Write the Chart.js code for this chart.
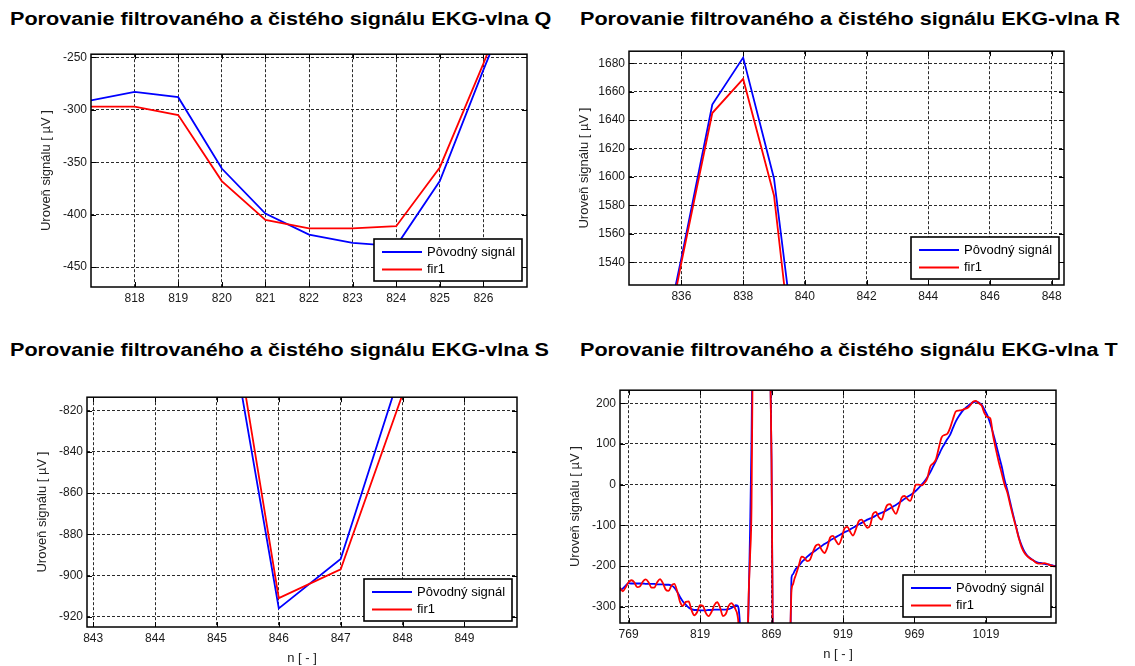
<!DOCTYPE html>
<html>
<head>
<meta charset="utf-8">
<script src="https://cdn.jsdelivr.net/npm/chart.js@4.4.0/dist/chart.umd.min.js"></script>
<style>
  html, body { margin: 0; padding: 0; background: #fff; }
  body { width: 1135px; height: 666px; position: relative; overflow: hidden; font-family: "Liberation Sans", Arial, sans-serif; }
  canvas { position: absolute; }
  .title { position: absolute; font-weight: bold; font-size: 18px; line-height: 20px; white-space: nowrap; color: #000; transform-origin: 0 50%; transform: scaleX(1.2); }
</style>
</head>
<body>
<div class="title" style="left:10px; top:9px">Porovanie filtrovaného a čistého signálu EKG-vlna Q</div>
<div class="title" style="left:580px; top:9px">Porovanie filtrovaného a čistého signálu EKG-vlna R</div>
<div class="title" style="left:10px; top:340px">Porovanie filtrovaného a čistého signálu EKG-vlna S</div>
<div class="title" style="left:580px; top:340px">Porovanie filtrovaného a čistého signálu EKG-vlna T</div>
<canvas id="chartQ"></canvas>
<canvas id="chartR"></canvas>
<canvas id="chartS"></canvas>
<canvas id="chartT"></canvas>
<script>
// Vlna Q
const qN    = [817, 818, 819, 820, 821, 822, 823, 824, 825, 826, 827];
const qOrig = [-291, -283, -288, -356, -399, -419, -427, -430, -368, -262, -160];
const qFir  = [-297, -297, -305, -368, -405, -413, -413, -411, -355, -256, -150];
const qXTicks = [818, 819, 820, 821, 822, 823, 824, 825, 826];
const qYTicks = [-450, -400, -350, -300, -250];

// Vlna R
const rN    = [834, 835, 836, 837, 838, 839, 840, 841];
const rOrig = [1300, 1440, 1543, 1651, 1684, 1599, 1425, 1200];
const rFir  = [1290, 1430, 1540, 1645, 1669, 1587, 1396, 1180];
const rXTicks = [836, 838, 840, 842, 844, 846, 848];
const rYTicks = [1540, 1560, 1580, 1600, 1620, 1640, 1660, 1680];

// Vlna S
const sN    = [842, 843, 844, 845, 846, 847, 848, 849, 850];
const sOrig = [-300, -500, -640, -742, -916, -892, -798, -700, -600];
const sFir  = [-290, -480, -610, -727, -911, -897, -812, -715, -620];
const sXTicks = [843, 844, 845, 846, 847, 848, 849];
const sYTicks = [-920, -900, -880, -860, -840, -820];

// Vlna T
const tN = [
  763, 765, 767, 769, 771, 773, 775, 777, 779, 781,
  783, 785, 787, 789, 791, 793, 795, 797, 799, 801,
  803, 805, 807, 809, 811, 813, 815, 817, 819, 821,
  823, 825, 827, 829, 831, 833, 835, 837, 839, 841,
  843,
  844, 845, 846, 847, 848, 849, 850, 851, 852, 853,
  854, 855, 856, 857, 858,
  859, 861, 863, 865,
  866, 867, 868, 869, 870, 871, 872, 873, 874, 875,
  876, 877, 878, 879, 880, 881, 882, 883, 884, 885,
  886,
  888, 890, 892, 894, 896, 898, 900,
  902, 904, 906, 908, 910, 912, 914, 916, 918, 920,
  922, 924, 926, 928, 930, 932, 934, 936, 938, 940,
  942, 944, 946, 948, 950, 952, 954, 956, 958, 960,
  962, 964, 966, 968, 970, 972, 974, 976, 978, 980,
  982, 984, 986, 988, 990, 992, 994, 996, 998, 1000,
  1002, 1004, 1006, 1008, 1010, 1012, 1014, 1016, 1018, 1020,
  1022, 1024, 1026, 1028, 1030, 1032, 1034, 1036, 1038, 1040,
  1042, 1044, 1046, 1048, 1050, 1052, 1054, 1056, 1058, 1060,
  1062, 1064, 1066, 1068
];
const tOrig = [
  -260, -255, -248, -242, -243, -243, -243, -243, -243, -244,
  -244, -244, -244, -245, -245, -245, -246, -246, -248, -253,
  -263, -276, -287, -295, -302, -306, -308, -308, -309, -309,
  -309, -308, -308, -307, -307, -307, -307, -307, -306, -303,
  -299,
  -296, -297, -305, -350, -440, -460, -455, -435, -400, -290,
  -110, 110, 450, 950, 1350,
  1600, 1690, 1520, 1100,
  850, 550, 320, 60, -420, -760, -910, -915, -905, -895,
  -880, -840, -760, -660, -560, -470, -420, -228, -220, -213,
  -207,
  -200, -191, -184, -177, -171, -166, -161,
  -156, -151, -146, -142, -137, -133, -129, -125, -121, -117,
  -114, -110, -106, -102, -98, -94, -90, -86, -83, -80,
  -76, -72, -69, -66, -62, -58, -54, -50, -45, -40,
  -35, -30, -26, -21, -15, -8, 0, 8, 18, 30,
  44, 58, 73, 88, 100, 112, 123, 140, 156, 168,
  178, 186, 192, 198, 202, 204, 202, 196, 184, 170,
  150, 126, 100, 72, 45, 12, -14, -44, -74, -102,
  -130, -150, -165, -175, -181, -186, -190, -192, -193, -195,
  -196, -197, -199, -200
];
const tFir = [
  -253, -262, -252, -240, -235, -240, -252, -250, -238, -233,
  -240, -253, -253, -240, -232, -242, -258, -261, -248, -244,
  -262, -288, -298, -288, -287, -308, -321, -313, -296, -298,
  -315, -323, -313, -296, -289, -302, -323, -318, -298, -291,
  -300,
  -308, -318, -350, -470, -520, -540, -530, -490, -420, -270,
  -175, -55, 400, 900, 1300,
  1550, 1670, 1500, 1050,
  800, 500, 300, 63, -450, -750, -900, -910, -900, -890,
  -870, -820, -750, -650, -550, -460, -380, -258, -245, -232,
  -222,
  -200, -177, -180, -188, -184, -165, -150,
  -147, -160, -168, -155, -130, -126, -138, -147, -132, -108,
  -104, -116, -125, -110, -90, -86, -96, -106, -100, -72,
  -67, -80, -86, -66, -50, -48, -62, -72, -55, -32,
  -28, -35, -40, -22, 0, 0, -2, 4, 16, 44,
  52, 62, 90, 116, 122, 125, 140, 162, 180, 182,
  183, 186, 188, 195, 204, 206, 200, 194, 175, 166,
  163, 120, 86, 55, 28, 0, -20, -50, -78, -104,
  -132, -154, -168, -176, -182, -186, -192, -194, -194, -193,
  -195, -198, -200, -201
];
const tXTicks = [769, 819, 869, 919, 969, 1019];
const tYTicks = [-300, -200, -100, 0, 100, 200];

const FONT = '"Liberation Sans", Arial, sans-serif';
const PAD = { l: 64, t: 6, r: 8, b: 46 };

// ramcek, vnutorne ciarky a legenda ako v Matlabe
const matlabFrame = {
  id: 'matlabFrame',
  afterDatasetsDraw(chart) {
    const { ctx, chartArea: a, scales: { x, y } } = chart;
    ctx.save();
    ctx.strokeStyle = '#000';
    ctx.lineWidth = 1;
    ctx.beginPath();
    x.ticks.forEach(t => {
      const px = Math.round(x.getPixelForValue(t.value)) + 0.5;
      ctx.moveTo(px, a.bottom); ctx.lineTo(px, a.bottom - 5);
      ctx.moveTo(px, a.top); ctx.lineTo(px, a.top + 5);
    });
    y.ticks.forEach(t => {
      const py = Math.round(y.getPixelForValue(t.value)) + 0.5;
      ctx.moveTo(a.left, py); ctx.lineTo(a.left + 5, py);
      ctx.moveTo(a.right, py); ctx.lineTo(a.right - 5, py);
    });
    ctx.stroke();
    ctx.lineWidth = 1.5;
    ctx.strokeRect(a.left, a.top, a.right - a.left, a.bottom - a.top);

    const w = 148, h = 42;
    const lx = Math.round(a.right - 5 - w), ly = Math.round(a.bottom - 6 - h);
    ctx.fillStyle = '#fff';
    ctx.fillRect(lx, ly, w, h);
    ctx.lineWidth = 1.6;
    ctx.strokeRect(lx, ly, w, h);
    ctx.font = '13px ' + FONT;
    ctx.textBaseline = 'middle';
    chart.data.datasets.forEach((ds, i) => {
      const yy = ly + 13 + i * 17.5;
      ctx.strokeStyle = ds.borderColor;
      ctx.lineWidth = 2;
      ctx.beginPath();
      ctx.moveTo(lx + 8, yy); ctx.lineTo(lx + 48, yy);
      ctx.stroke();
      ctx.fillStyle = '#000';
      ctx.fillText(ds.label, lx + 53, yy);
    });
    ctx.restore();
  }
};

function axisOpts(min, max, tickList, isX, titleText) {
  const o = {
    type: 'linear',
    min: min, max: max,
    bounds: 'data',
    afterBuildTicks: s => { s.ticks = tickList.map(v => ({ value: v })); },
    grid: { color: '#2a2a2a', lineWidth: 1, drawTicks: false },
    border: { display: false, dash: [3, 2] },
    ticks: {
      color: '#1a1a1a', font: { family: FONT, size: 12 }, padding: 4,
      maxRotation: 0, autoSkip: false, callback: v => String(v)
    }
  };
  if (isX) {
    o.position = 'bottom';
    o.afterFit = s => { s.height = PAD.b; };
    o.title = { display: !!titleText, text: titleText || '', color: '#222', font: { family: FONT, size: 13 }, padding: { top: 0, bottom: 7 } };
  } else {
    o.position = 'left';
    o.afterFit = s => { s.width = PAD.l; };
    o.title = { display: true, text: titleText, color: '#222', font: { family: FONT, size: 13 }, padding: { top: 12, bottom: 0 } };
  }
  return o;
}

function makePanel(id, box, xs, orig, fir, xr, yr, xTicks, yTicks, xTitle, smooth) {
  const cv = document.getElementById(id);
  cv.width = box.r - box.l + PAD.l + PAD.r;
  cv.height = box.b - box.t + PAD.t + PAD.b;
  cv.style.left = (box.l - PAD.l) + 'px';
  cv.style.top = (box.t - PAD.t) + 'px';
  const pts = arr => arr.map((v, i) => ({ x: xs[i], y: v }));
  const mode = smooth ? 'monotone' : 'default';
  return new Chart(cv, {
    type: 'line',
    data: {
      datasets: [
        { label: 'Pôvodný signál', data: pts(orig), borderColor: '#0000ff', borderWidth: 1.8, order: 1, clip: 0, cubicInterpolationMode: mode },
        { label: 'fir1', data: pts(fir), borderColor: '#ff0000', borderWidth: 1.8, order: 0, clip: 0, cubicInterpolationMode: mode }
      ]
    },
    options: {
      responsive: false,
      animation: false,
      events: [],
      layout: { padding: { left: 0, top: PAD.t, right: PAD.r, bottom: 0 } },
      elements: { point: { radius: 0 }, line: { tension: 0, fill: false } },
      plugins: { legend: { display: false }, tooltip: { enabled: false } },
      scales: {
        x: axisOpts(xr[0], xr[1], xTicks, true, xTitle),
        y: axisOpts(yr[0], yr[1], yTicks, false, 'Uroveň signálu [ µV ]')
      }
    },
    plugins: [matlabFrame]
  });
}

makePanel('chartQ', { l: 91, t: 49, r: 527, b: 287 }, qN, qOrig, qFir, [817, 827], [-469, -247], qXTicks, qYTicks, '', false);
makePanel('chartR', { l: 629, t: 46, r: 1064, b: 285 }, rN, rOrig, rFir, [834.3, 848.4], [1524, 1688.5], rXTicks, rYTicks, '', false);
makePanel('chartS', { l: 87, t: 392, r: 517, b: 627 }, sN, sOrig, sFir, [842.9, 849.85], [-925, -813.4], sXTicks, sYTicks, 'n [ - ]', false);
makePanel('chartT', { l: 620, t: 385, r: 1056, b: 623 }, tN, tOrig, tFir, [763, 1068], [-340, 232], tXTicks, tYTicks, 'n [ - ]', true);
</script>
</body>
</html>
